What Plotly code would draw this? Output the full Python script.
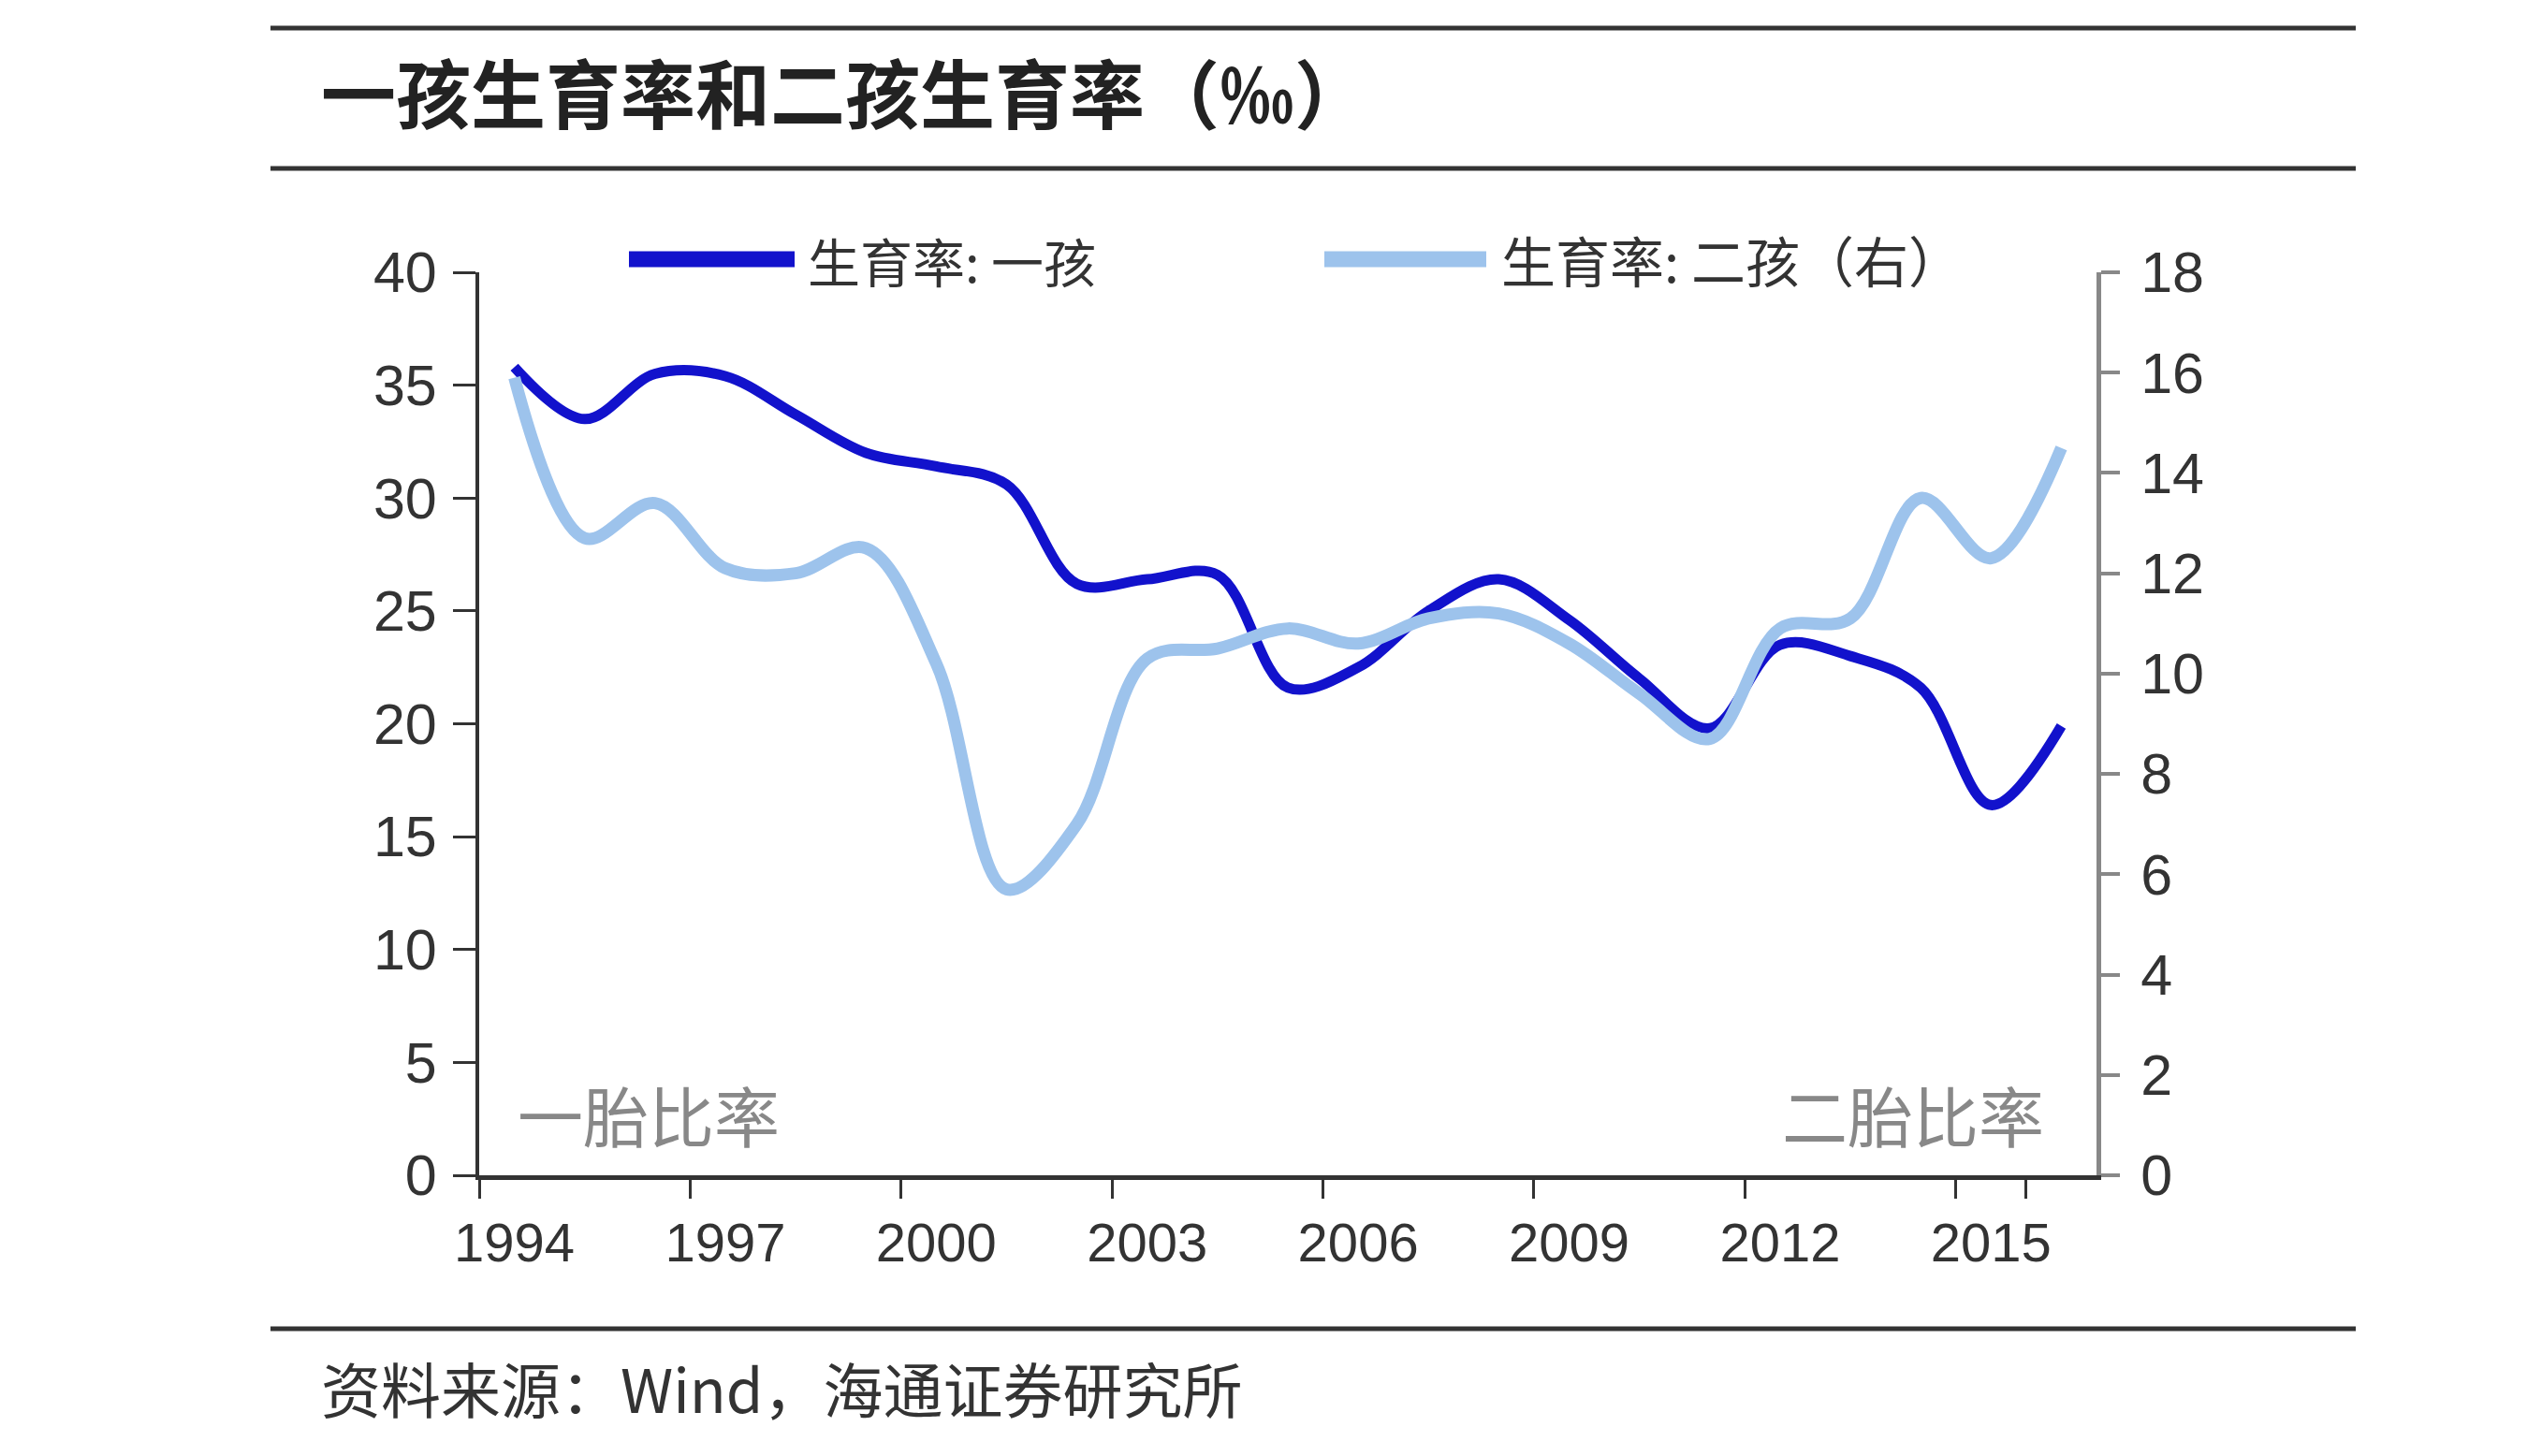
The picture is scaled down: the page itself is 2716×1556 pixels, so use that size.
import plotly.graph_objects as go

# ---- data ----
years = [str(y) for y in range(1994, 2017)]
first_child = [35.8, 33.5, 35.5, 35.4, 33.7, 32.0, 31.4, 30.6, 26.2, 26.4, 26.6, 21.6,
               22.5, 25.0, 26.4, 24.6, 22.0, 19.8, 23.5, 23.0, 21.6, 16.4, 19.9]
second_child = [15.9, 12.7, 13.4, 12.1, 12.0, 12.5, 10.2, 5.7, 7.0, 10.3, 10.5, 10.9,
                10.6, 11.1, 11.2, 10.6, 9.6, 8.7, 10.9, 11.1, 13.5, 12.3, 14.5]
x_tick_labels = ["1994", "1997", "2000", "2003", "2006", "2009", "2012", "2015"]
left_ticks = [0, 5, 10, 15, 20, 25, 30, 35, 40]
right_ticks = [0, 2, 4, 6, 8, 10, 12, 14, 16, 18]

name1 = "生育率: 一孩"
name2 = "生育率: 二孩（右）"
title = "一孩生育率和二孩生育率（‰）"
source = "资料来源：Wind，海通证券研究所"

W, H = 2716, 1556
OFF = 8  # page body margin
DARK = "#1212CC"
LIGHT = "#9DC3EC"
CJK = "Noto Sans CJK SC, Noto Sans, sans-serif"
NUM = "Liberation Sans, Arial, sans-serif"

def px(x):
    return (x - OFF) / W

def py(y):
    return 1 - (y - OFF) / H

fig = go.Figure()
fig.add_trace(go.Scatter(x=years, y=first_child, name=name1, mode="lines",
                         line=dict(color=DARK, width=11, shape="spline", smoothing=1.0),
                         showlegend=False, yaxis="y"))
fig.add_trace(go.Scatter(x=years, y=second_child, name=name2, mode="lines",
                         line=dict(color=LIGHT, width=13, shape="spline", smoothing=1.0),
                         showlegend=False, yaxis="y2"))

fig.update_layout(
    width=W, height=H,
    margin=dict(l=0, r=0, t=0, b=0, autoexpand=False),
    paper_bgcolor="white", plot_bgcolor="white",
    xaxis=dict(
        type="category", automargin=False,
        domain=[px(512), px(2240)],
        range=[-0.5, len(years) - 0.5],
        tickmode="array", tickvals=x_tick_labels, ticktext=x_tick_labels,
        tickson="boundaries", tickangle=0,
        ticks="outside", ticklen=20, tickwidth=3, tickcolor="#333",
        showline=True, linewidth=5, linecolor="#333",
        showgrid=False, zeroline=False,
        tickfont=dict(family=NUM, size=58, color="#333"),
        ticklabelstandoff=17,
    ),
    yaxis=dict(
        automargin=False,
        domain=[py(1256), py(291)],
        range=[0, 40], tickmode="array", tickvals=left_ticks,
        ticks="outside", ticklen=24, tickwidth=3, tickcolor="#333",
        showline=True, linewidth=4, linecolor="#333",
        showgrid=False, zeroline=False,
        tickfont=dict(family=NUM, size=61, color="#333"),
        ticklabelstandoff=5,
    ),
    yaxis2=dict(
        automargin=False,
        overlaying="y", side="right", anchor="x",
        range=[0, 18], tickmode="array", tickvals=right_ticks,
        ticks="outside", ticklen=20, tickwidth=4, tickcolor="#888",
        showline=True, linewidth=5, linecolor="#888",
        showgrid=False, zeroline=False,
        tickfont=dict(family=NUM, size=61, color="#333"),
        ticklabelstandoff=10,
    ),
)

shapes = []
for yy in (30, 180, 1420):
    shapes.append(dict(type="line", xref="paper", yref="paper",
                       x0=px(289), x1=px(2517), y0=py(yy), y1=py(yy),
                       line=dict(color="#333", width=5)))
# legend samples
shapes.append(dict(type="line", xref="paper", yref="paper",
                   x0=px(672), x1=px(849), y0=py(277), y1=py(277),
                   line=dict(color=DARK, width=17)))
shapes.append(dict(type="line", xref="paper", yref="paper",
                   x0=px(1415), x1=px(1588), y0=py(277), y1=py(277),
                   line=dict(color=LIGHT, width=17)))
fig.update_layout(shapes=shapes)

ann = [
    dict(text=title, x=px(341), y=py(96), xref="paper", yref="paper",
         xanchor="left", yanchor="middle", showarrow=False,
         font=dict(family=CJK, size=80, color="#222", weight="bold")),
    dict(text=source, x=px(341), y=py(1482), xref="paper", yref="paper",
         xanchor="left", yanchor="middle", showarrow=False,
         font=dict(family=CJK, size=64, color="#333")),
    dict(text=name1, x=px(861), y=py(277), xref="paper", yref="paper",
         xanchor="left", yanchor="middle", showarrow=False,
         font=dict(family=CJK, size=56, color="#333")),
    dict(text=name2, x=px(1602), y=py(277), xref="paper", yref="paper",
         xanchor="left", yanchor="middle", showarrow=False,
         font=dict(family=CJK, size=58, color="#333")),
    dict(text="一胎比率", x=px(551), y=py(1190), xref="paper", yref="paper",
         xanchor="left", yanchor="middle", showarrow=False,
         font=dict(family=CJK, size=70, color="#888")),
    dict(text="二胎比率", x=px(2186), y=py(1190), xref="paper", yref="paper",
         xanchor="right", yanchor="middle", showarrow=False,
         font=dict(family=CJK, size=70, color="#888")),
]
fig.update_layout(annotations=ann)

fig.write_html("out.html")
